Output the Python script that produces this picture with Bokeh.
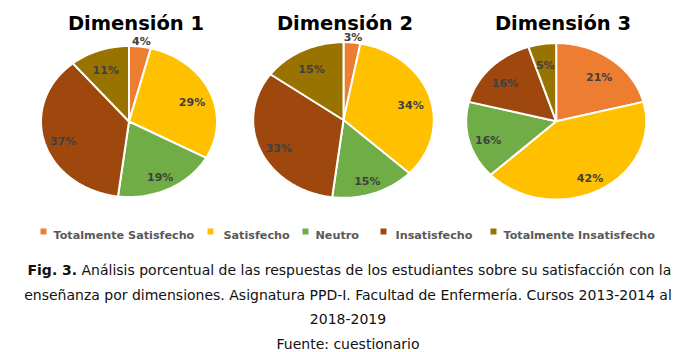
import numpy as np
from bokeh.plotting import figure
from bokeh.models import Range1d, ColumnDataSource
from bokeh.core.properties import value
from bokeh.embed import file_html
from bokeh.resources import INLINE

# ---- data ----
categories = ["Totalmente Satisfecho", "Satisfecho", "Neutro", "Insatisfecho", "Totalmente Insatisfecho"]
colors = ["#ED7D31", "#FFC000", "#70AD47", "#9E480E", "#997300"]
titles = ["Dimensión 1", "Dimensión 2", "Dimensión 3"]
dim1 = [4, 29, 19, 37, 11]
dim2 = [3, 34, 15, 33, 15]
dim3 = [21, 42, 16, 16, 5]
caption_bold = "Fig. 3."
caption_line1 = "Análisis porcentual de las respuestas de los estudiantes sobre su satisfacción con la"
caption_line2 = "enseñanza por dimensiones. Asignatura PPD-I. Facultad de Enfermería. Cursos 2013-2014 al"
caption_line3 = "2018-2019"
caption_source = "Fuente: cuestionario"

# ---- layout (pixel space) ----
W, H = 687, 352
pies = [
    dict(vals=dim1, cx=128.5, cy=121.0, rx=88.0, ry=75.5, tx=135.5, ty=23),
    dict(vals=dim2, cx=343.0, cy=119.5, rx=90.3, ry=77.8, tx=344.5, ty=23),
    dict(vals=dim3, cx=555.7, cy=120.8, rx=90.0, ry=78.2, tx=562.5, ty=23),
]

p = figure(width=W, height=H, output_backend="svg", toolbar_location=None,
           x_range=Range1d(0, W), y_range=Range1d(H, 0), min_border=0)
p.axis.visible = False
p.grid.visible = False
p.outline_line_color = None
p.background_fill_color = "white"
p.border_fill_color = "white"

FONT = value("DejaVu Sans")

for title, pie in zip(titles, pies):
    vals = np.array(pie["vals"], dtype=float)
    frac = vals / vals.sum()
    ends = np.cumsum(frac) * 2 * np.pi
    starts = ends - frac * 2 * np.pi
    xs, ys, lx, ly, labels = [], [], [], [], []
    for s, e, v in zip(starts, ends, vals):
        t = np.linspace(s, e, max(int((e - s) / (2 * np.pi) * 240), 4))
        px = np.concatenate([[pie["cx"]], pie["cx"] + pie["rx"] * np.sin(t)])
        py = np.concatenate([[pie["cy"]], pie["cy"] - pie["ry"] * np.cos(t)])
        xs.append(list(px)); ys.append(list(py))
        m = (s + e) / 2
        k = 1.12 if v < 5 else 0.78
        lx.append(pie["cx"] + k * pie["rx"] * np.sin(m))
        ly.append(pie["cy"] - k * pie["ry"] * np.cos(m) + 4)
        labels.append(f"{int(v)}%")
    src = ColumnDataSource(dict(xs=xs, ys=ys, color=colors))
    p.patches("xs", "ys", source=src, fill_color="color", line_color="white", line_width=2)
    lsrc = ColumnDataSource(dict(x=lx, y=ly, t=labels))
    p.text("x", "y", text="t", source=lsrc, text_font=FONT, text_font_style="bold",
           text_font_size="11px", text_color="#404040", text_align="center",
           text_baseline="alphabetic")
    p.text(x=[pie["tx"]], y=[pie["ty"]], text=[title], text_font=FONT, text_font_style="bold",
           text_font_size="19.5px", text_color="#000000", text_align="center",
           text_baseline="alphabetic")

# legend
leg_marker_x = [43, 210, 305, 383, 493]
leg_text_x = [53, 223, 315, 395, 503]
p.scatter(x=leg_marker_x, y=[231] * 5, marker="square", size=6, fill_color=colors, line_color=None)
p.text(x=leg_text_x, y=[235] * 5, text=categories, text_font=FONT, text_font_style="bold",
       text_font_size="11.2px", text_color="#595959", text_align="left", text_baseline="alphabetic")

# caption
p.text(x=[27], y=[269], text=[caption_bold], text_font=FONT, text_font_style="bold",
       text_font_size="14px", text_color="#111111", text_align="left", text_baseline="alphabetic")
p.text(x=[81], y=[269], text=[caption_line1], text_font=FONT,
       text_font_size="14px", text_color="#111111", text_align="left", text_baseline="alphabetic")
p.text(x=[347.5, 347.5, 347.5], y=[294, 318, 343], text=[caption_line2, caption_line3, caption_source],
       text_font=FONT, text_font_size="14px", text_color="#111111", text_align="center",
       text_baseline="alphabetic")

open("out.html", "w").write(file_html(p, INLINE))
